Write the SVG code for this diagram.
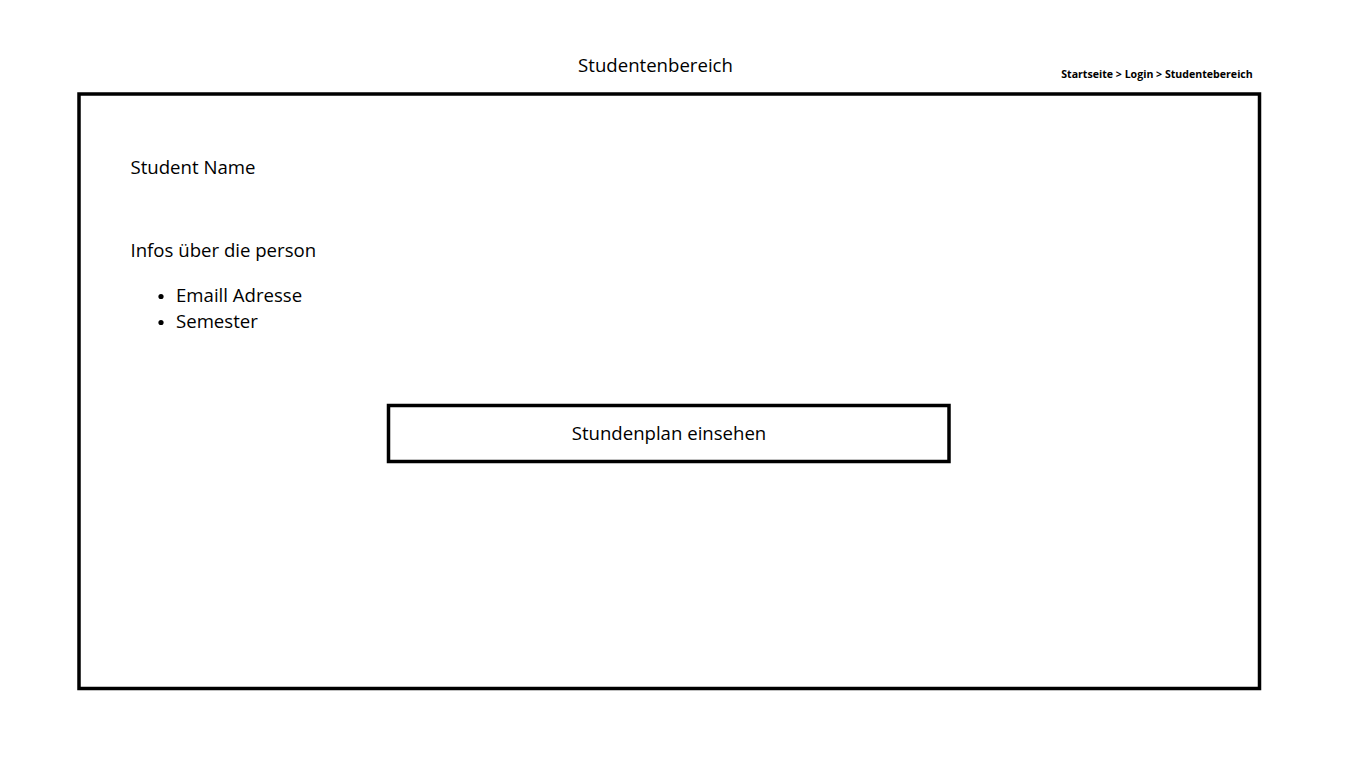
<svg xmlns="http://www.w3.org/2000/svg" width="1366" height="768" viewBox="0 0 1366 768">
<style>
text{font-family:"Open Sans","Noto Sans",sans-serif;fill:#000}
.t{font-size:18.6px}
.b{font-size:10.6px;font-weight:bold}
.box{fill:#fff;stroke:#000;stroke-width:3.5}
</style>
<rect width="1366" height="768" fill="#fff"/>
<g id="title"><text class="t" x="655.5" y="71.5" text-anchor="middle">Studentenbereich</text></g>
<g id="breadcrumb"><text class="b" x="1157" y="78" text-anchor="middle">Startseite &gt; Login &gt; Studentebereich</text></g>
<g id="frame"><rect class="box" x="79" y="94" width="1180.5" height="594.5"/></g>
<g id="name"><text class="t" x="130.5" y="173.5">Student Name</text></g>
<g id="infos">
<text class="t" x="130.5" y="256.5">Infos über die person</text>
<circle cx="161" cy="296.5" r="2.6"/>
<text class="t" x="176" y="301.5">Emaill Adresse</text>
<circle cx="161" cy="322.5" r="2.6"/>
<text class="t" x="176" y="327.5">Semester</text>
</g>
<g id="button">
<rect class="box" x="388.5" y="405.5" width="560.5" height="56"/>
<text class="t" x="669" y="440" text-anchor="middle">Stundenplan einsehen</text>
</g>
<g id="connectors"/>
</svg>
